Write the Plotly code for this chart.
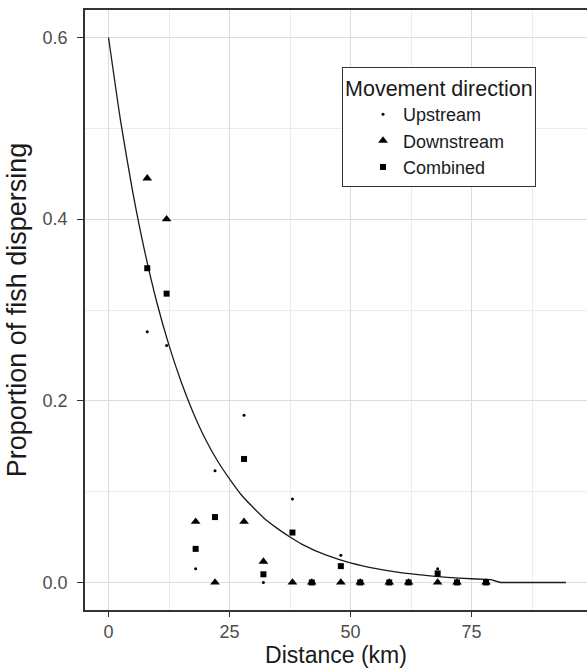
import plotly.graph_objects as go

distance = [8, 12, 18, 22, 28, 32, 38, 42, 48, 52, 58, 62, 68, 72, 78]
upstream = [0.276, 0.261, 0.015, 0.123, 0.184, 0.0, 0.092, 0.0, 0.030, 0.0, 0.0, 0.0, 0.015, 0.0, 0.0]
downstream = [0.445, 0.400, 0.067, 0.0, 0.067, 0.023, 0.0, 0.0, 0.0, 0.0, 0.0, 0.0, 0.0, 0.0, 0.0]
combined = [0.346, 0.318, 0.037, 0.072, 0.136, 0.009, 0.055, 0.0, 0.018, 0.0, 0.0, 0.0, 0.010, 0.0, 0.0]

# fitted curve (smooth part, then the drop to zero and flat tail)
curve_x = [0, 2.5, 5, 7.5, 10, 12.5, 15, 17.5, 20, 22.5, 25, 27.5, 30, 32.5, 35, 37.5, 40, 45, 50, 55,
           60, 65, 70, 75, 79]
curve_y = [0.600, 0.508, 0.430, 0.364, 0.308, 0.261, 0.221, 0.187, 0.158, 0.134, 0.114, 0.096, 0.082,
           0.069, 0.059, 0.050, 0.042, 0.030, 0.0216, 0.0155, 0.0111, 0.0080, 0.0057, 0.0041, 0.0031]
tail_x = [79, 81, 94.5]
tail_y = [0.0031, 0.0, 0.0]

x_ticks = [0, 25, 50, 75]
y_ticks = [0.0, 0.2, 0.4, 0.6]
y_tick_labels = ["0.0", "0.2", "0.4", "0.6"]

FONT = "Liberation Sans, Arial, Helvetica, sans-serif"

fig = go.Figure()
fig.add_trace(go.Scatter(x=curve_x, y=curve_y, mode="lines",
                         line=dict(color="#1a1a1a", width=1.3, shape="spline", smoothing=0.6),
                         showlegend=False, hoverinfo="skip"))
fig.add_trace(go.Scatter(x=tail_x, y=tail_y, mode="lines",
                         line=dict(color="#1a1a1a", width=1.3),
                         showlegend=False, hoverinfo="skip"))
fig.add_trace(go.Scatter(x=distance, y=upstream, mode="markers", name="Upstream",
                         marker=dict(symbol="circle", size=3, color="black")))
fig.add_trace(go.Scatter(x=distance, y=downstream, mode="markers", name="Downstream",
                         marker=dict(symbol="triangle-up", size=8.5, color="black")))
fig.add_trace(go.Scatter(x=distance, y=combined, mode="markers", name="Combined",
                         marker=dict(symbol="square", size=6, color="black")))

fig.update_layout(
    width=587, height=669,
    margin=dict(l=85, r=0, t=10, b=59),
    paper_bgcolor="white", plot_bgcolor="white",
    font=dict(family=FONT, color="#1a1a1a"),
    legend=dict(
        title=dict(text="Movement direction", font=dict(size=21.5, color="#1a1a1a")),
        font=dict(size=18, color="#1a1a1a"),
        x=0.512, y=0.905, xanchor="left", yanchor="top",
        bgcolor="white", bordercolor="#333333", borderwidth=1,
        itemsizing="trace", indentation=20,
    ),
    xaxis=dict(
        range=[-4.86, 98.86], tickvals=x_ticks, ticks="outside", ticklen=5, tickcolor="#333333",
        tickfont=dict(size=18, color="#4d4d4d"),
        title=dict(text="Distance (km)", font=dict(size=23, color="#1a1a1a"), standoff=4),
        showgrid=True, gridcolor="#dcdcdc", gridwidth=1,
        minor=dict(dtick=12.5, tick0=0, showgrid=True, gridcolor="#ececec", gridwidth=1),
        showline=True, linecolor="#333333", linewidth=1.5, mirror=True, zeroline=False,
    ),
    yaxis=dict(
        range=[-0.0303, 0.6303], tickvals=y_ticks, ticktext=y_tick_labels, ticks="outside", ticklen=6,
        ticklabelstandoff=6,
        tickcolor="#333333", tickfont=dict(size=18, color="#4d4d4d"),
        title=dict(text="Proportion of fish dispersing", font=dict(size=27, color="#1a1a1a"), standoff=8),
        showgrid=True, gridcolor="#dcdcdc", gridwidth=1,
        minor=dict(dtick=0.1, tick0=0, showgrid=True, gridcolor="#ececec", gridwidth=1),
        showline=True, linecolor="#333333", linewidth=1.5, mirror=False, zeroline=False,
    ),
)

fig.write_html("out.html")
